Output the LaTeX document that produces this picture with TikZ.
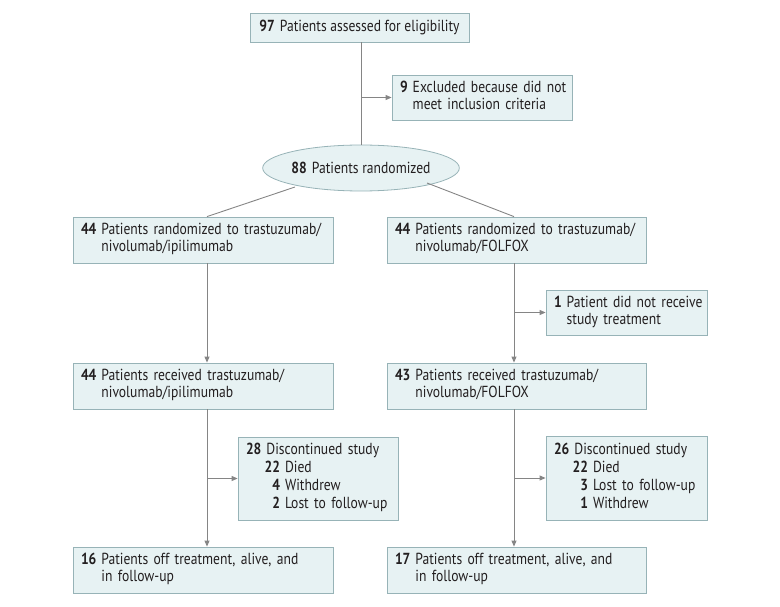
\documentclass[tikz,border=0pt]{standalone}
\usepackage{fontspec}
\setmainfont{PT Sans}[FakeStretch=0.85]
\usetikzlibrary{arrows.meta,shapes.geometric}
\definecolor{boxfill}{HTML}{E7F2F3}
\definecolor{boxline}{HTML}{97B3B7}
\definecolor{conn}{HTML}{858585}
\definecolor{txt}{HTML}{231F20}
\newcommand\hang[3]{\begin{tabular}{@{}r@{\hspace{5pt}}l@{}}\textbf{#1}&#2\\&#3\end{tabular}}
\newcommand\subl[2]{\hspace{17pt}\makebox[17pt][r]{\textbf{#1}}\hspace{5pt}#2}
\begin{document}
\begin{tikzpicture}[x=1pt,y=-1pt,
  font=\fontsize{16}{16.8}\selectfont, text=txt,
  bx/.style={draw=boxline, fill=boxfill, line width=0.8pt, inner xsep=8pt, inner ysep=0pt, align=left, anchor=center},
  ln/.style={draw=conn, line width=0.9pt},
  arr/.style={ln, -{Triangle[length=6pt,width=5pt]}}]
\useasboundingbox (0,0) rectangle (780,607);
\coordinate (lx) at (207,0);
\coordinate (rx) at (514,0);
\node[bx, minimum width=219pt, minimum height=29pt, inner xsep=0pt] (top) at (359.5,27.5) {\textbf{97}\hspace{5pt}Patients assessed for eligibility};
\node[bx, minimum width=180pt, minimum height=45pt, text width=164pt] (excl) at (482,97.5) {\hang{9}{Excluded because did not}{meet inclusion criteria}};
\node[draw=boxline, fill=boxfill, line width=0.8pt, ellipse, minimum width=189pt, minimum height=46pt, inner sep=0pt] (rand) at (361,168) {\textbf{88}\hspace{5pt}Patients randomized};
\node[bx, minimum width=260pt, minimum height=46pt, text width=244pt] (l1) at (203,240) {\hang{44}{Patients randomized to trastuzumab/}{nivolumab/ipilimumab}};
\node[bx, minimum width=259pt, minimum height=46pt, text width=243pt] (r1) at (516.5,240) {\hang{44}{Patients randomized to trastuzumab/}{nivolumab/FOLFOX}};
\node[bx, minimum width=161pt, minimum height=45pt, text width=145pt] (nr) at (626.5,312.5) {\hang{1}{Patient did not receive}{study treatment}};
\node[bx, minimum width=260pt, minimum height=46pt, text width=244pt] (l2) at (203,386) {\hang{44}{Patients received trastuzumab/}{nivolumab/ipilimumab}};
\node[bx, minimum width=259pt, minimum height=46pt, text width=243pt] (r2) at (516.5,386) {\hang{43}{Patients received trastuzumab/}{nivolumab/FOLFOX}};
\node[bx, minimum width=160pt, minimum height=83pt, text width=144pt] (ld) at (318,478.5) {\begin{tabular}{@{}l@{}}\textbf{28}\hspace{5pt}Discontinued study\\[1.2pt]\subl{22}{Died}\\[1.2pt]\subl{4}{Withdrew}\\[1.2pt]\subl{2}{Lost to follow-up}\end{tabular}};
\node[bx, minimum width=161pt, minimum height=84pt, text width=145pt] (rd) at (626.5,478) {\begin{tabular}{@{}l@{}}\textbf{26}\hspace{5pt}Discontinued study\\[1.2pt]\subl{22}{Died}\\[1.2pt]\subl{3}{Lost to follow-up}\\[1.2pt]\subl{1}{Withdrew}\end{tabular}};
\node[bx, minimum width=260pt, minimum height=46pt, text width=244pt] (l3) at (203,570) {\hang{16}{Patients off treatment, alive, and}{in follow-up}};
\node[bx, minimum width=259pt, minimum height=46pt, text width=243pt] (r3) at (516.5,570) {\hang{17}{Patients off treatment, alive, and}{in follow-up}};
% connectors
\draw[ln] (top.south -| rand.north) -- (rand.north);
\draw[arr] (rand.north |- excl.west) -- (excl.west);
\draw[ln] (rand) ++(-66,19) -- (l1.north -| lx);
\draw[ln] (rand) ++(66,15) -- (r1.north -| rx);
\draw[arr] (l1.south -| lx) -- (l2.north -| lx);
\draw[arr] (r1.south -| rx) -- (r2.north -| rx);
\draw[arr] (rx |- nr.west) -- (nr.west);
\draw[arr] (l2.south -| lx) -- (l3.north -| lx);
\draw[arr] (lx |- ld.west) -- (ld.west);
\draw[arr] (r2.south -| rx) -- (r3.north -| rx);
\draw[arr] (rx |- rd.west) -- (rd.west);
\end{tikzpicture}
\end{document}
